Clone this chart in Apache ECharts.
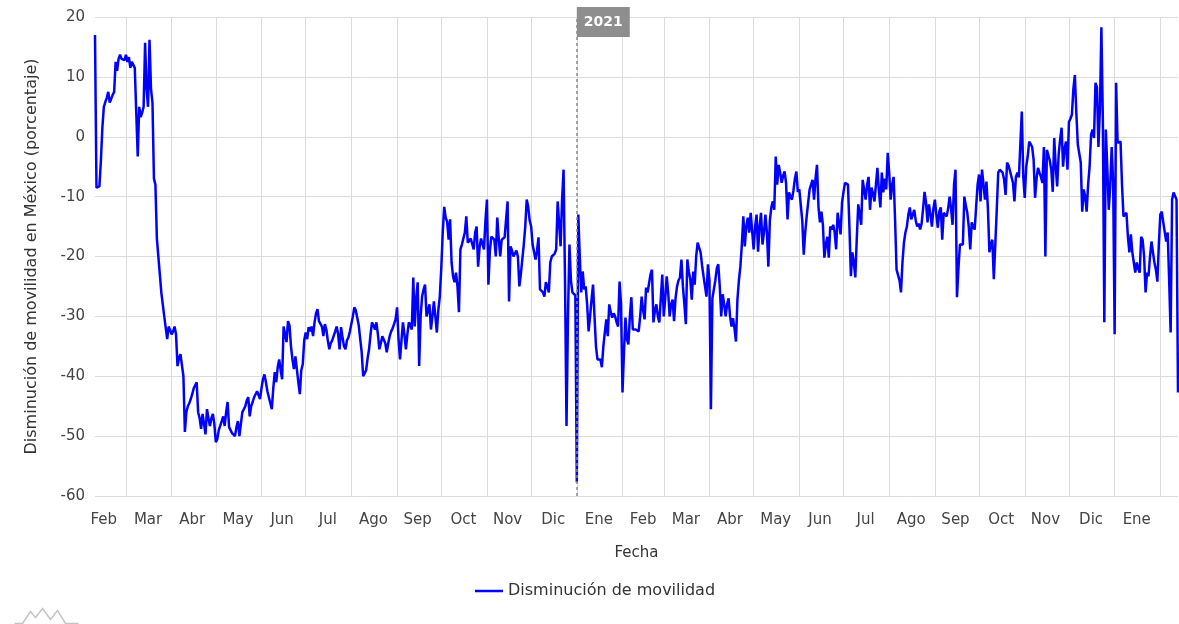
<!DOCTYPE html>
<html>
<head>
<meta charset="utf-8">
<script src="https://cdn.jsdelivr.net/npm/echarts@6/dist/echarts.min.js"></script>
<style>
  html, body { margin: 0; padding: 0; background: #fff; }
  #chart { width: 1179px; height: 624px; }
</style>
</head>
<body>
<div id="chart"></div>
<script>
// primer día de la serie (un valor por día)
const inicio = '2020-02-09';

// valores diarios, en tramos consecutivos
const tramo01 = [17, -8.5, -8.5, -8.3, -4, 1.5, 5, 5.8, 6.5, 7.5, 5.7, 6, 7, 7.5, 12.5, 11, 13, 13.7, 13, 12.8];
const tramo02 = [12.8, 13.7, 12.5, 13.3, 11.5, 12.5, 12.5, 11.5, 4, -3.3, 5, 3.3, 4, 5, 15.7, 8, 5, 16.2, 8, 5.7, -7, -8, -17, -16.7, -23, -26, -28, -30, -30, -33.8, -31.7];
const tramo03 = [-32, -33, -32.5, -31.7, -33, -38.3, -37, -36.3, -36, -40, -49.3, -46, -45, -44.5, -43.8, -43, -42, -41.5, -41, -46, -47, -48.8, -46.3, -48, -49.7, -45.5, -47, -48.3, -47, -46.3];
const tramo04 = [-48, -51, -50.5, -49, -48.8, -47.5, -46.7, -48.3, -46, -44.3, -48.5, -49, -49.5, -49.8, -50, -48.5, -47.5, -50, -48, -46, -45.5, -45, -44, -43.5, -46.7, -45, -44.3, -43.5, -43, -42.5, -42.2];
const tramo05 = [-43.8, -42, -40.5, -39.7, -41, -42.5, -43.5, -44.5, -45.5, -42, -39.3, -41, -38.5, -37.2, -39, -40.5, -31.7, -33, -34.3, -30.8, -31.5, -35, -37.2, -38.8, -36.7, -38.8, -41, -43, -39, -38];
const tramo06 = [-34, -32.7, -33.8, -31.8, -32.5, -31.7, -33.3, -31, -29.5, -28.8, -30.8, -31, -31.7, -33.3, -31.3, -32.2, -34, -35.5, -34.5, -34, -33.8, -32.5, -31.7, -33, -35.5, -31.8, -33.5, -35, -35.5, -34, -33.5];
const tramo07 = [-32.5, -32.2, -30, -28.5, -29, -29.3, -31.5, -33.8, -36, -40, -40.3, -39, -37, -35.5, -33, -31, -31.5, -32.2, -31, -33, -35.5, -34.5, -33.3, -33, -34.5, -36, -34.5, -33.3, -32.5, -32, -31.7];
const tramo08 = [-30.5, -28.5, -33.8, -37.2, -34, -31, -33, -35.5, -33, -31, -31.5, -32.2, -23.5, -31.7, -27, -24.3, -38.3, -30, -26.7, -25.5, -24.7, -30, -29, -28, -32.2, -30, -27.5, -30, -32.7, -29];
const tramo09 = [-26.7, -22, -16, -11.7, -13.5, -14.2, -17.2, -13.8, -21, -23.3, -24.3, -22.7, -25, -29.3, -18.8, -18, -17.7, -16, -13.3, -17.7, -17.5, -17, -17.2, -18.8, -16, -15, -21.7, -18.5, -17, -16.7, -18.8];
const tramo10 = [-14, -10.5, -24.7, -19, -16.7, -17, -17.2, -20, -13.5, -17, -20, -17.2, -17, -16.8, -16.7, -10.8, -27.5, -18.3, -19, -20, -20, -19, -20, -25, -23, -20.5, -18, -15, -10.5, -11.7];
const tramo11 = [-14, -15, -18, -19.3, -20.5, -19, -16.8, -25.5, -25.5, -26, -26.7, -24.3, -25, -26, -21, -20, -20, -19.5, -18.8, -10.8, -11, -18.3, -10.5, -5.5, -24.3, -48.3, -30, -18, -24, -26, -26.3];
const tramo12 = [-26.5, -57.7, -13, -20, -26, -22.5, -25.5, -25, -28, -32.5, -30, -27.2, -24.7, -30, -35, -37.2, -37.5, -37.2, -38.5, -35, -32.7, -30.5, -33.3, -28, -29.3, -30.2, -29.5, -30, -31, -31.7, -24.2];
const tramo13 = [-28, -42.7, -36, -30.2, -33.8, -34.7, -30, -26.8, -32.2, -32, -32.2, -32, -32.5, -30, -26.7, -29, -30.5, -25.2, -26, -26.3, -23, -22.2, -31, -29, -28, -30, -31, -27];
const tramo14 = [-23, -30, -27, -23.3, -26, -30, -28, -27.2, -30.8, -27, -25, -24, -23.5, -20.5, -25, -28, -31.3, -20.5, -22.5, -23.8, -27.2, -22.5, -24.7, -20, -17.7, -18.5, -19.3, -21.5, -23.3, -25, -26.7];
const tramo15 = [-21.3, -24, -45.5, -27, -25.5, -24, -22, -21.3, -25, -30, -26.3, -28, -30, -28, -27, -30, -31.7, -30.3, -32, -34.2, -27.2, -24, -21.7, -18, -13.3, -18.3, -15, -13.5, -16, -12.7];
const tramo16 = [-12.7, -18.8, -15, -13, -19.2, -15, -12.7, -18, -16, -13, -16, -21.7, -14, -11.8, -10.8, -12.2, -3.3, -8, -4.7, -6, -7.7, -6.5, -5.8, -7.7, -13.8, -9.3, -10, -10.5, -9, -7, -5.8];
const tramo17 = [-9.2, -8.8, -8.8, -14, -19.7, -16, -13.3, -11, -8.8, -8, -7.2, -10.5, -7, -4.7, -11.7, -14.3, -12.5, -14.7, -20.2, -18, -16.7, -20.2, -15, -15.5, -14.7, -16, -18.8, -12.7, -14.5, -16.3];
const tramo18 = [-11, -9.2, -7.7, -8, -8, -15, -23.3, -19.3, -21, -23.5, -17, -11.3, -13, -14.7, -7.2, -7.2, -10.5, -8, -6.7, -12.2, -8.5, -9.5, -10.8, -8, -5.2, -9, -11.8, -6, -9.3, -7, -8.8];
const tramo19 = [-2.7, -6, -10.5, -8, -6.7, -14, -22.2, -22.5, -24, -26, -21, -17.7, -16, -15, -13, -11.8, -13.8, -13, -12.2, -14, -15, -14.5, -15.5, -14.5, -12, -9.2, -11, -14.3, -11.3, -13, -15];
const tramo20 = [-12, -10.5, -13, -15.2, -12.5, -11.8, -17.2, -12.7, -13, -13.3, -12, -10, -12, -14.7, -8, -5.5, -26.8, -22, -18, -18, -18, -10, -11.5, -12.7, -15, -18.8, -14.3, -15, -15.5, -11.7];
const tramo21 = [-8, -6.3, -10.8, -5.5, -8, -10.5, -7.5, -12, -19.3, -18, -17.2, -23.8, -18, -12.2, -6, -5.5, -5.2, -6, -7.2, -9.7, -4.3, -4.8, -5, -6.7, -7.7, -10.8, -6.7, -6, -6.8, -6.5, 4.2];
const tramo22 = [-6.7, -10.2, -5, -3.3, -0.8, -1.2, -1.7, -3.8, -10.2, -7, -5.2, -6, -6.7, -7.7, -1.7, -20, -2.2, -2.2, -4, -5.5, -9.2, -0.2, -5, -8.3, -3, -0.5, 1.5, -5, -2, -0.8];
const tramo23 = [-5.5, 2.5, 3, 3.7, 8, 10.3, 4, -1.3, -1.3, -4.3, -12.5, -8.8, -10, -12.5, -8, -5, 0.3, 1.2, -0.2, 9, 8.3, -1.7, 4.5, 18.3, 2.8, -31, 1.2, -5, -12.2, -8.3, -1.7];
const tramo24 = [-7.7, -33, 9, -1, -1, -0.8, -8, -13.3, -13, -12.7, -16.7, -19.3, -16.3, -19.3, -21, -22.7, -21, -22, -22.7, -16.7, -17.2, -20, -26, -22.7, -23.3, -20, -17.5, -19.3, -21, -22.2, -24.2];
const tramo25 = [-18, -13, -12.5, -14.3, -14.3, -17.5, -16, -24, -32.7, -10.5, -9.3, -9.5, -10.5, -42.7];

const meses = ['Ene', 'Feb', 'Mar', 'Abr', 'May', 'Jun', 'Jul', 'Ago', 'Sep', 'Oct', 'Nov', 'Dic'];
const ticksY = [-60, -50, -40, -30, -20, -10, 0, 10, 20];
const marcaFecha = '2021-01-01';
const marcaTexto = '2021';

const valores = [].concat(tramo01, tramo02, tramo03, tramo04, tramo05, tramo06, tramo07,
  tramo08, tramo09, tramo10, tramo11, tramo12, tramo13, tramo14, tramo15, tramo16,
  tramo17, tramo18, tramo19, tramo20, tramo21, tramo22, tramo23, tramo24, tramo25);

// fechas diarias a partir del inicio
const t0 = Date.parse(inicio + 'T00:00:00Z');
const fechas = valores.map((v, i) => new Date(t0 + i * 86400000).toISOString().slice(0, 10));

function diasDelMes(f) {
  const y = +f.slice(0, 4), m = +f.slice(5, 7);
  return new Date(Date.UTC(y, m, 0)).getUTCDate();
}

const fuente = 'DejaVu Sans';
const myChart = echarts.init(document.getElementById('chart'));

const option = {
  animation: false,
  grid: { left: 95, right: 1, top: 17, bottom: 128 },
  legend: {
    left: 470,
    top: 578,
    itemWidth: 28,
    itemHeight: 2.5,
    itemGap: 8,
    textStyle: { fontFamily: fuente, fontSize: 16, color: '#333', padding: [0, 0, 0, 0] },
    data: [{ name: 'Disminución de movilidad', icon: 'rect' }]
  },
  xAxis: {
    type: 'category',
    data: fechas,
    boundaryGap: false,
    name: 'Fecha',
    nameLocation: 'middle',
    nameGap: 50,
    nameTextStyle: { fontFamily: fuente, fontSize: 15, color: '#333' },
    axisLine: { show: false },
    axisTick: { show: false },
    axisLabel: {
      fontFamily: fuente,
      fontSize: 15,
      color: '#444',
      margin: 17,
      // etiqueta a mitad de cada mes
      interval: function (i, v) {
        const d = +v.slice(8, 10);
        return d === (diasDelMes(v) === 31 ? 16 : 15);
      },
      formatter: function (v) { return meses[+v.slice(5, 7) - 1]; }
    },
    splitLine: {
      show: true,
      // línea al inicio de cada mes
      interval: function (i, v) { return v.slice(8, 10) === '01'; },
      lineStyle: { color: '#dcdcdc', width: 1 }
    }
  },
  yAxis: {
    type: 'value',
    min: ticksY[0],
    max: ticksY[ticksY.length - 1],
    interval: 10,
    name: 'Disminución de movilidad en México (porcentaje)',
    nameLocation: 'middle',
    nameGap: 55,
    nameTextStyle: { fontFamily: fuente, fontSize: 16, color: '#333' },
    axisLine: { show: false },
    axisTick: { show: false },
    axisLabel: { fontFamily: fuente, fontSize: 15, color: '#444', margin: 10 },
    splitLine: { lineStyle: { color: '#dcdcdc', width: 1 } }
  },
  series: [
    {
      name: 'Disminución de movilidad',
      type: 'line',
      data: valores,
      symbol: 'none',
      showSymbol: false,
      lineStyle: { color: '#0000ff', width: 2.5 },
      itemStyle: { color: '#0000ff' },
      markLine: {
        silent: true,
        symbol: 'none',
        lineStyle: { color: '#888', type: [3, 3], width: 1.5 },
        label: {
          show: true,
          position: 'end',
          formatter: marcaTexto,
          align: 'left',
          verticalAlign: 'top',
          distance: 10,
          backgroundColor: '#8e8e8e',
          color: '#fff',
          fontFamily: fuente,
          fontSize: 14,
          fontWeight: 600,
          padding: [8, 7, 8, 7]
        },
        data: [{ xAxis: marcaFecha }]
      }
    }
  ],
  graphic: [
    {
      type: 'polyline',
      left: 12,
      top: 606,
      shape: { points: [[0, 16], [8, 16], [16, 4], [21, 10], [28, 1], [36, 12], [43, 3], [51, 16], [64, 16]] },
      style: { stroke: '#c4c4c4', fill: null, lineWidth: 1.5 }
    }
  ]
};

myChart.setOption(option);
</script>
</body>
</html>
